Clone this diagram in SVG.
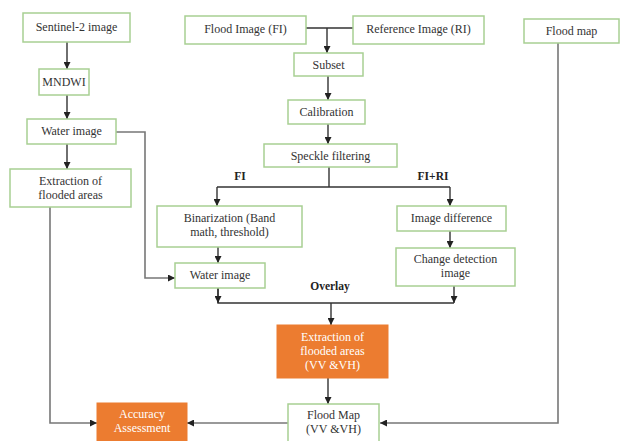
<svg xmlns="http://www.w3.org/2000/svg" width="621" height="441" viewBox="0 0 621 441">
<style>
.b{fill:#fff;stroke:#a8cf93;stroke-width:1.5}
.o{fill:#ec7c30;stroke:#ec7c30;stroke-width:1}
.t{font-family:"Liberation Serif","Times New Roman",serif;font-size:12px;fill:#333;text-anchor:middle}
.w{fill:#fff}
.lb{font-family:"Liberation Serif","Times New Roman",serif;font-size:11.5px;font-weight:bold;fill:#222;text-anchor:middle}
.c{fill:none;stroke:#333;stroke-width:1.4}
.g{fill:none;stroke:#777;stroke-width:1.6}
</style>
<defs>
<marker id="a" viewBox="0 0 10 10" refX="10" refY="5" markerWidth="7" markerHeight="7" markerUnits="userSpaceOnUse" orient="auto">
<path d="M0,0 L10,5 L0,10 Z" fill="#222"/>
</marker>
</defs>
<rect width="621" height="441" fill="#fff"/>
<g id="connectors">
<path class="c" d="M67,42 V69" marker-end="url(#a)"/>
<path class="c" d="M67,95 V119" marker-end="url(#a)"/>
<path class="c" d="M67,144 V169" marker-end="url(#a)"/>
<path class="g" d="M116,132 H145 V278 H175" marker-end="url(#a)"/>
<path class="g" d="M50,207 V423 H97" marker-end="url(#a)"/>
<path class="c" d="M306,28 H353 M327,28 V53" marker-end="url(#a)"/>
<path class="c" d="M328,76 V100" marker-end="url(#a)"/>
<path class="c" d="M328,124 V144" marker-end="url(#a)"/>
<path class="c" d="M329,167 V187"/>
<path class="c" d="M217,187 H450"/>
<path class="c" d="M217,187 V206" marker-end="url(#a)"/>
<path class="c" d="M450,187 V206" marker-end="url(#a)"/>
<path class="c" d="M218,247 V263" marker-end="url(#a)"/>
<path class="c" d="M450,231 V248" marker-end="url(#a)"/>
<path class="c" d="M218,288 V303 H454"/>
<path class="c" d="M218,288 V303" marker-end="url(#a)"/>
<path class="c" d="M454,286 V303" marker-end="url(#a)"/>
<path class="c" d="M331,303 V325" marker-end="url(#a)"/>
<path class="c" d="M328,378 V404" marker-end="url(#a)"/>
<path class="g" d="M288,423 H187" marker-end="url(#a)"/>
<path class="g" d="M558,43 V423 H380" marker-end="url(#a)"/>
</g>
<text class="lb" x="240" y="180">FI</text>
<text class="lb" x="433" y="180">FI+RI</text>
<text class="lb" x="330" y="290">Overlay</text>
<g id="sentinel"><rect class="b" x="23" y="13" width="107" height="29"/><text class="t" x="76.5" y="31">Sentinel-2 image</text></g>
<g id="mndwi"><rect class="b" x="39" y="69" width="50" height="26"/><text class="t" x="64" y="86">MNDWI</text></g>
<g id="water1"><rect class="b" x="27" y="119" width="89" height="25"/><text class="t" x="71.5" y="135">Water image</text></g>
<g id="extract1"><rect class="b" x="10" y="169" width="121" height="38"/><text class="t" x="70.5" y="185">Extraction of</text><text class="t" x="70.5" y="199">flooded areas</text></g>
<g id="fi"><rect class="b" x="185" y="16" width="121" height="28"/><text class="t" x="245.5" y="33">Flood Image (FI)</text></g>
<g id="ri"><rect class="b" x="353" y="16" width="131" height="28"/><text class="t" x="418.5" y="33">Reference Image (RI)</text></g>
<g id="floodmap"><rect class="b" x="524" y="19" width="95" height="24"/><text class="t" x="571.5" y="35">Flood map</text></g>
<g id="subset"><rect class="b" x="294" y="53" width="69" height="23"/><text class="t" x="328.5" y="69">Subset</text></g>
<g id="calib"><rect class="b" x="288" y="100" width="77" height="24"/><text class="t" x="326.5" y="116">Calibration</text></g>
<g id="speckle"><rect class="b" x="264" y="144" width="133" height="23"/><text class="t" x="330.5" y="160">Speckle filtering</text></g>
<g id="binar"><rect class="b" x="157" y="206" width="145" height="41"/><text class="t" x="229.5" y="222">Binarization (Band</text><text class="t" x="229.5" y="236">math, threshold)</text></g>
<g id="water2"><rect class="b" x="175" y="263" width="90" height="25"/><text class="t" x="220" y="279">Water image</text></g>
<g id="diff"><rect class="b" x="397" y="206" width="109" height="25"/><text class="t" x="451.5" y="222">Image difference</text></g>
<g id="change"><rect class="b" x="396" y="248" width="119" height="38"/><text class="t" x="455.5" y="263">Change detection</text><text class="t" x="455.5" y="277">image</text></g>
<g id="extract2"><rect class="o" x="277" y="325" width="111" height="53"/><text class="t w" x="332.5" y="341">Extraction of</text><text class="t w" x="332.5" y="355">flooded areas</text><text class="t w" x="332.5" y="369">(VV &amp;VH)</text></g>
<g id="fmap"><rect class="b" x="288" y="404" width="91" height="40"/><text class="t" x="333.5" y="419">Flood Map</text><text class="t" x="333.5" y="433">(VV &amp;VH)</text></g>
<g id="acc"><rect class="o" x="97" y="403" width="90" height="41"/><text class="t w" x="142" y="418">Accuracy</text><text class="t w" x="142" y="432">Assessment</text></g>
</svg>
